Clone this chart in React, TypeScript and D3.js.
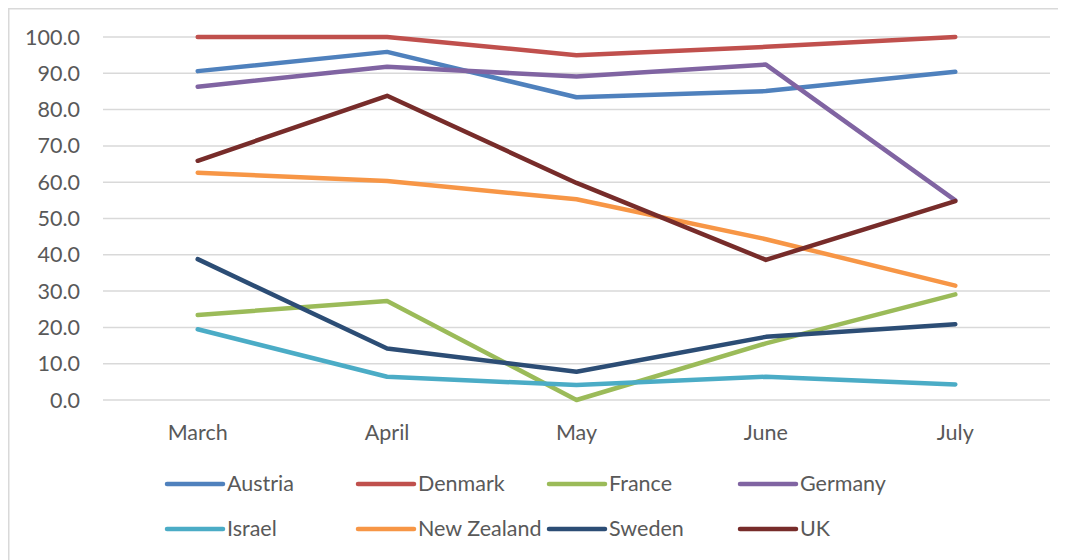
import React, { useEffect, useRef } from "react";
import * as d3 from "d3";

const months = ["March", "April", "May", "June", "July"];
const yTicks = [0, 10, 20, 30, 40, 50, 60, 70, 80, 90, 100];

const austria = [90.6, 95.9, 83.4, 85.1, 90.4];
const denmark = [100, 100, 95.0, 97.3, 100];
const france = [23.4, 27.3, 0, 15.6, 29.1];
const germany = [86.3, 91.8, 89.1, 92.4, 55.0];
const israel = [19.5, 6.4, 4.1, 6.4, 4.3];
const newZealand = [62.6, 60.3, 55.3, 44.3, 31.5];
const sweden = [38.8, 14.2, 7.8, 17.4, 20.9];
const uk = [65.9, 83.8, 59.8, 38.6, 54.8];

const seriesNames = ["Austria", "Denmark", "France", "Germany", "Israel", "New Zealand", "Sweden", "UK"];
const seriesValues = [austria, denmark, france, germany, israel, newZealand, sweden, uk];
const seriesColors = ["#4F81BD", "#C0504D", "#9BBB59", "#8064A2", "#4BACC6", "#F79646", "#2C4D75", "#772C2A"];

const FONT = "Lato, 'Open Sans', sans-serif";
const FS = 21.5;

export default function App() {
  const ref = useRef<SVGSVGElement>(null);

  useEffect(() => {
    const svg = d3.select(ref.current);
    svg.selectAll("*").remove();
    const g = svg.append("g").attr("transform", `translate(-8,-8)`);

    g.append("rect")
      .attr("x", 8.75).attr("y", 8.75)
      .attr("width", 1100).attr("height", 600)
      .attr("fill", "white")
      .attr("stroke", "#d9d9d9").attr("stroke-width", 1.5);

    const x = d3.scaleBand<string>().domain(months).range([103, 1050]);
    const y = d3.scaleLinear().domain([0, 100]).range([400, 37]);

    g.append("g").selectAll("line").data(yTicks).join("line")
      .attr("x1", 103).attr("x2", 1050)
      .attr("y1", (d) => y(d)).attr("y2", (d) => y(d))
      .attr("stroke", "#d9d9d9").attr("stroke-width", 1.5);

    g.append("g").selectAll("text").data(yTicks).join("text")
      .attr("x", 80).attr("y", (d) => y(d))
      .attr("dy", "0.35em")
      .attr("text-anchor", "end")
      .attr("font-family", FONT).attr("font-size", FS)
      .attr("fill", "#595959")
      .text((d) => d3.format(".1f")(d));

    g.append("g").selectAll("text").data(months).join("text")
      .attr("x", (d) => (x(d) as number) + x.bandwidth() / 2)
      .attr("y", 432).attr("dy", "0.35em")
      .attr("text-anchor", "middle")
      .attr("font-family", FONT).attr("font-size", FS)
      .attr("fill", "#595959")
      .text((d) => d);

    const line = d3.line<number>()
      .x((_, i) => (x(months[i]) as number) + x.bandwidth() / 2)
      .y((d) => y(d));

    seriesValues.forEach((vals, i) => {
      g.append("path")
        .attr("d", line(vals))
        .attr("fill", "none")
        .attr("stroke", seriesColors[i])
        .attr("stroke-width", 4.5)
        .attr("stroke-linecap", "round")
        .attr("stroke-linejoin", "round");
    });

    const legX = [167, 358, 549, 740];
    const legY = [484, 529];
    seriesNames.forEach((name, i) => {
      const col = i % 4, row = Math.floor(i / 4);
      const lg = g.append("g");
      lg.append("line")
        .attr("x1", legX[col]).attr("x2", legX[col] + 56)
        .attr("y1", legY[row]).attr("y2", legY[row])
        .attr("stroke", seriesColors[i]).attr("stroke-width", 4.5)
        .attr("stroke-linecap", "round");
      lg.append("text")
        .attr("x", legX[col] + 60).attr("y", legY[row] - 1).attr("dy", "0.35em")
        .attr("font-family", FONT).attr("font-size", FS)
        .attr("fill", "#595959")
        .text(name);
    });
  }, []);

  return <svg ref={ref} width={1058} height={552} style={{ display: "block" }} />;
}
